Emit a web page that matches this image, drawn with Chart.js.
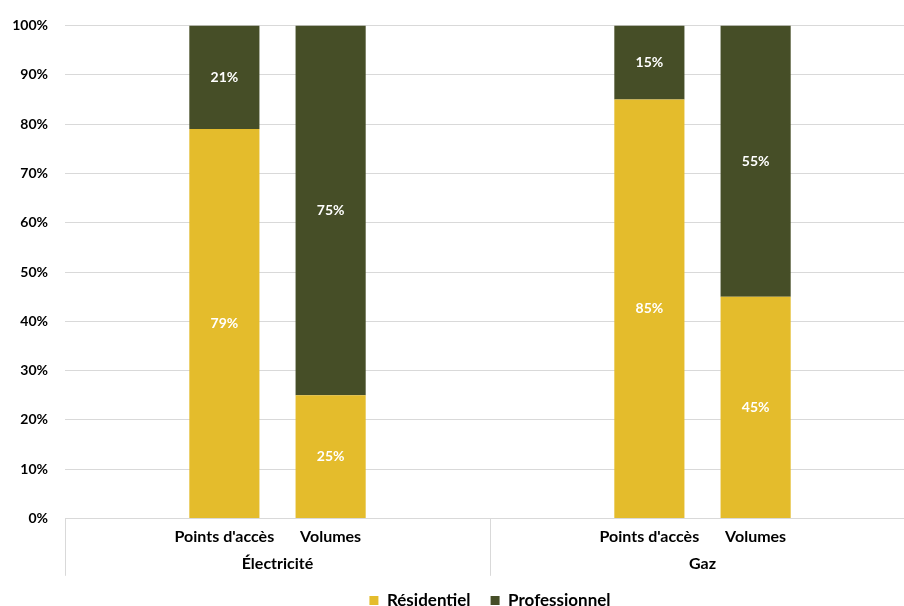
<!DOCTYPE html>
<html>
<head>
<meta charset="utf-8">
<script src="https://cdn.jsdelivr.net/npm/chart.js@4/dist/chart.umd.min.js"></script>
<style>
  html, body { margin: 0; padding: 0; background: #fff; overflow: hidden; }
  #wrap { width: 916px; height: 619px; position: relative; }
</style>
</head>
<body>
<div id="wrap"><canvas id="chart"></canvas></div>
<script>
// categories (empty slots keep the Excel spacing)
let categories    = ['', "Points d'accès", 'Volumes', '', '', "Points d'accès", 'Volumes', ''];
let groups        = ['Électricité', 'Gaz'];
let residentiel   = [null, 79, 25, null, null, 85, 45, null];
let professionnel = [null, 21, 75, null, null, 15, 55, null];

let colors = {
    residentiel   : '#E4BC2C',
    professionnel : '#464E27',
    grid          : '#d9d9d9'
};
let fontFamily = 'Lato, "Open Sans", sans-serif';

// white % labels in the middle of every segment
let segmentLabels = {
    id : 'segmentLabels',
    afterDatasetsDraw : ( chart ) => {
        let ctx = chart.ctx;
        ctx.save();
        ctx.fillStyle = '#ffffff';
        ctx.font = 'bold 14px ' + fontFamily;
        ctx.textAlign = 'center';
        ctx.textBaseline = 'middle';
        chart.data.datasets.forEach( ( ds, i ) => {
            chart.getDatasetMeta( i ).data.forEach( ( bar, j ) => {
                if ( ds.data[j] === null ) return;
                ctx.fillText( ds.data[j] + '%', bar.x, ( bar.y + bar.base ) / 2 );
            } );
        } );
        ctx.restore();
    }
};

// vertical separators between the two groups, under the axis
let groupSeparators = {
    id : 'groupSeparators',
    afterDraw : ( chart ) => {
        let x = chart.scales.x;
        let x2 = chart.scales.x2;
        let ctx = chart.ctx;
        let step = x.width / categories.length;
        ctx.save();
        ctx.strokeStyle = colors.grid;
        ctx.lineWidth = 1;
        [0, 4, 8].forEach( ( i ) => {
            let px = Math.round( x.left + i * step ) + 0.5;
            ctx.beginPath();
            ctx.moveTo( px, chart.chartArea.bottom );
            ctx.lineTo( px, x2.top + 30 );
            ctx.stroke();
        } );
        ctx.restore();
    }
};

let ctx = document.getElementById( 'chart' ).getContext( '2d' );
let chart = new Chart( ctx, {
    type : 'bar',
    data : {
        labels : categories,
        datasets : [
            { label : 'Résidentiel',   data : residentiel,   backgroundColor : colors.residentiel },
            { label : 'Professionnel', data : professionnel, backgroundColor : colors.professionnel }
        ]
    },
    options : {
        responsive : true,
        maintainAspectRatio : false,
        animation : false,
        layout : { padding : { top : 16, right : 1, bottom : 0, left : 0 } },
        datasets : { bar : { categoryPercentage : 1, barPercentage : 0.66 } },
        plugins : {
            legend : {
                position : 'bottom',
                fullSize : false,
                labels : {
                    boxWidth : 9,
                    boxHeight : 9,
                    padding : 20,
                    color : '#000',
                    font : { family : fontFamily, size : 17, weight : 'bold' }
                }
            },
            tooltip : { enabled : false }
        },
        scales : {
            x : {
                stacked : true,
                grid : { display : false, drawTicks : false },
                border : { display : false },
                ticks : {
                    color : '#000',
                    padding : 9,
                    autoSkip : false,
                    maxRotation : 0,
                    font : { family : fontFamily, size : 16, weight : 'bold' }
                },
                afterFit : ( scale ) => { scale.height -= 10; }
            },
            x2 : {
                type : 'category',
                labels : groups,
                position : 'bottom',
                offset : true,
                grid : { display : false, drawTicks : false },
                border : { display : false },
                ticks : {
                    color : '#000',
                    padding : 8,
                    font : { family : fontFamily, size : 16, weight : 'bold' }
                },
                afterFit : ( scale ) => { scale.height -= 9; }
            },
            y : {
                stacked : true,
                min : 0,
                max : 100,
                grid : { color : colors.grid, drawTicks : false },
                border : { display : false },
                ticks : {
                    stepSize : 10,
                    padding : 17,
                    color : '#000',
                    callback : ( v ) => v + '%',
                    font : { family : fontFamily, size : 14, weight : 'bold' }
                },
                afterFit : ( scale ) => { scale.width = 65; }
            }
        }
    },
    plugins : [ segmentLabels, groupSeparators ]
} );
</script>
</body>
</html>
